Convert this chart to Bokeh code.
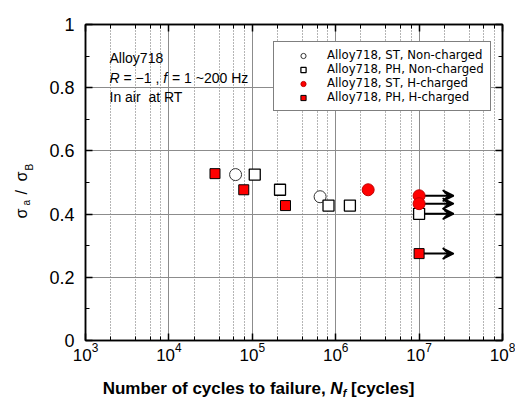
from math import pi
from bokeh.plotting import figure
from bokeh.layouts import row, column
from bokeh.models import (LogAxis, LinearAxis, FixedTicker, LogTicker, Label, Legend,
                          LegendItem, Arrow, VeeHead, Range1d)
from bokeh.embed import file_html
from bokeh.resources import INLINE

# ---------------- data ----------------
st_nc_N = [6.3e4, 6.5e5]
st_nc_s = [0.525, 0.455]
ph_nc_N = [1.07e5, 2.15e5, 8.2e5, 1.48e6, 1.0e7]
ph_nc_s = [0.525, 0.477, 0.427, 0.427, 0.401]
st_h_N = [2.45e6, 1.0e7, 1.0e7]
st_h_s = [0.477, 0.458, 0.433]
ph_h_N = [3.57e4, 7.9e4, 2.5e5, 1.0e7]
ph_h_s = [0.528, 0.477, 0.427, 0.275]
runout_N = [1.0e7, 1.0e7, 1.0e7, 1.0e7]
runout_s = [0.458, 0.433, 0.401, 0.275]
runout_end_N = 2.6e7

y_ticks = [0, 0.2, 0.4, 0.6, 0.8, 1]
y_minor = [0.1, 0.3, 0.5, 0.7, 0.9]
y_labels = {0: "0", 0.2: "0.2", 0.4: "0.4", 0.6: "0.6", 0.8: "0.8", 1: "1"}

legend_labels = ["Alloy718, ST, Non-charged", "Alloy718, PH, Non-charged",
                 "Alloy718, ST, H-charged", "Alloy718, PH, H-charged"]

FONT = "Liberation Sans"
NB = "\u00a0"

# approximate Arial advance widths (1/1000 em)
REG = {' ': 278, NB: 278, '=': 584, '−': 584, ',': 278, '~': 584, 'H': 722, 'z': 500,
       'R': 722, 'f': 278, 'A': 667, 'l': 222, 'o': 556, 'y': 500, 'I': 278, 'n': 556,
       'a': 556, 'i': 222, 'r': 333, 't': 278, 'T': 611, '/': 278}
BOLD = {'N': 722, 'u': 611, 'm': 889, 'b': 611, 'e': 556, 'r': 389, ' ': 278, NB: 278,
        'o': 611, 'f': 333, 'c': 556, 'y': 556, 'l': 278, 's': 556, 't': 333, 'a': 556,
        'i': 278, ',': 278, '[': 333, ']': 333}


def tw(s, size, bold=False):
    tab = BOLD if bold else REG
    return sum(tab.get(ch, 556) for ch in s) * size / 1000.0


def nb(s):
    return s.replace(" ", NB)


LEFT_W = 40
MAIN_W = 515 - LEFT_W
MAIN_H = 372
BOT_H = 399 - MAIN_H
FRAME_LEFT = 85

p = figure(width=MAIN_W, height=MAIN_H, x_axis_type="log",
           x_range=Range1d(1e3, 1e8), y_range=Range1d(0, 1),
           output_backend="svg", toolbar_location=None,
           min_border_left=FRAME_LEFT - LEFT_W, min_border_right=13, min_border_top=24,
           min_border_bottom=MAIN_H - 340)
p.outline_line_color = "black"
p.outline_line_width = 1.5
p.background_fill_color = "white"
p.border_fill_color = "white"

# grids
p.xgrid.grid_line_color = "#8c8c8c"
p.xgrid.grid_line_width = 1
p.xgrid.minor_grid_line_color = "#6a6a6a"
p.xgrid.minor_grid_line_dash = "1 2"
p.xgrid.minor_grid_line_width = 1
p.ygrid.grid_line_color = "#8c8c8c"
p.ygrid.grid_line_width = 1
p.ygrid.ticker = FixedTicker(ticks=y_ticks)


def style_axis(ax, labels=True, size="17px"):
    ax.axis_line_color = "black"
    ax.axis_line_width = 1.5
    ax.major_tick_in = 7
    ax.major_tick_out = 0
    ax.minor_tick_in = 4
    ax.minor_tick_out = 0
    ax.major_tick_line_color = "black"
    ax.major_tick_line_width = 1.5
    ax.minor_tick_line_color = "black"
    ax.minor_tick_line_width = 1
    ax.major_label_text_font = FONT
    ax.major_label_text_color = "black"
    if labels:
        ax.major_label_text_font_size = size
        ax.major_label_standoff = 2
    else:
        ax.major_label_text_font_size = "1px"
        ax.major_label_text_alpha = 0
        ax.major_label_standoff = 0


xa = p.xaxis[0]
xa.ticker = LogTicker()
style_axis(xa, size="17px")
ya = p.yaxis[0]
ya.ticker = FixedTicker(ticks=y_ticks, minor_ticks=y_minor)
ya.major_label_overrides = y_labels
style_axis(ya, size="18px")
ya.major_label_standoff = 11

top = LogAxis(ticker=LogTicker())
style_axis(top, labels=False)
p.add_layout(top, "above")
right = LinearAxis(ticker=FixedTicker(ticks=y_ticks, minor_ticks=y_minor))
style_axis(right, labels=False)
p.add_layout(right, "right")

# runout arrows (behind markers)
for n0, s0 in zip(runout_N, runout_s):
    p.add_layout(Arrow(x_start=n0, y_start=s0, x_end=runout_end_N, y_end=s0,
                       line_color="black", line_width=2, level="underlay",
                       end=VeeHead(size=11, fill_color="black", line_color="black",
                                   line_width=1.5)))

r1 = p.scatter(st_nc_N, st_nc_s, marker="circle", size=12, fill_color="white",
               line_color="#333333", line_width=1)
r2 = p.scatter(ph_nc_N, ph_nc_s, marker="square", size=11, fill_color="white",
               line_color="black", line_width=1.3)
r3 = p.scatter(st_h_N, st_h_s, marker="circle", size=12, fill_color="#ff0000",
               line_color="#c00000", line_width=1)
r4 = p.scatter(ph_h_N, ph_h_s, marker="square", size=10, fill_color="#ff0000",
               line_color="black", line_width=1)

legend = Legend(items=[LegendItem(label=legend_labels[i], renderers=[r])
                       for i, r in enumerate([r1, r2, r3, r4])],
                location=(188, 229), orientation="vertical")
legend.border_line_color = "black"
legend.border_line_width = 1
legend.background_fill_color = "white"
legend.background_fill_alpha = 1
legend.label_text_font = "DejaVu Sans"
legend.label_text_font_size = "11.7px"
legend.label_text_color = "black"
legend.label_height = 13
legend.glyph_height = 13
legend.glyph_width = 46
legend.label_standoff = 1
legend.spacing = 0
legend.padding = 6
legend.margin = 0
legend.label_text_baseline = "middle"
p.add_layout(legend)


def add_text(fig, x, y, s, size, style="normal", angle=0.0):
    fig.add_layout(Label(x=x, y=y, x_units="screen", y_units="screen", text=nb(s),
                         text_font=FONT, text_font_size=f"{size}px", text_font_style=style,
                         text_color="black", text_baseline="alphabetic", text_align="left",
                         angle=angle))


# top-left annotation (screen units relative to frame)
ax0 = 24
add_text(p, ax0, 283, "Alloy718", 14)
xx = ax0
add_text(p, xx, 263, "R", 14, "italic")
xx += tw("R", 14)
add_text(p, xx, 263, " = −1 ,", 14)
xx += tw(" = −1 , ", 14)
add_text(p, xx, 263, "f", 14, "italic")
xx += tw("f", 14) + 1
add_text(p, xx, 263, " = 1 ~200 Hz", 14)
add_text(p, ax0, 244, "In air  at RT", 14)


def blank(w, h):
    f = figure(width=w, height=h, x_range=Range1d(0, w), y_range=Range1d(0, h),
               x_axis_type=None, y_axis_type=None, title=None,
               output_backend="svg", toolbar_location=None,
               min_border=0, min_border_left=0, min_border_right=0,
               min_border_top=0, min_border_bottom=0)
    f.outline_line_color = None
    f.grid.visible = False
    f.background_fill_color = "white"
    f.border_fill_color = "white"
    return f


# left strip: y axis title (rotated)
lf = blank(LEFT_W, 399)
add_text(lf, 21, 181, "σ", 16, angle=pi / 2)
add_text(lf, 26, 194, "a", 10, angle=pi / 2)
add_text(lf, 21, 205, "/", 16, angle=pi / 2)
add_text(lf, 21, 218, "σ", 16, angle=pi / 2)
add_text(lf, 29, 229, "B", 10, angle=pi / 2)

# bottom strip: x axis title (its frame is aligned with the main frame)
bf = blank(MAIN_W, BOT_H)
big, sub = 17, 11
pieces = [("Number of cycles to failure, ", big, "bold", 0),
          ("N", big, "bold italic", 0),
          ("f", sub, "bold italic", -4),
          (" [cycles]", big, "bold", 0)]
total = sum(tw(s, sz, True) for s, sz, _, _ in pieces)
xx = (258 - FRAME_LEFT) - total / 2
for s, sz, st, dy in pieces:
    add_text(bf, xx, 11 + dy, s, sz, st)
    xx += tw(s, sz, True)

layout = row(lf, column(p, bf, spacing=0), spacing=0)
open("out.html", "w").write(file_html(layout, INLINE))
